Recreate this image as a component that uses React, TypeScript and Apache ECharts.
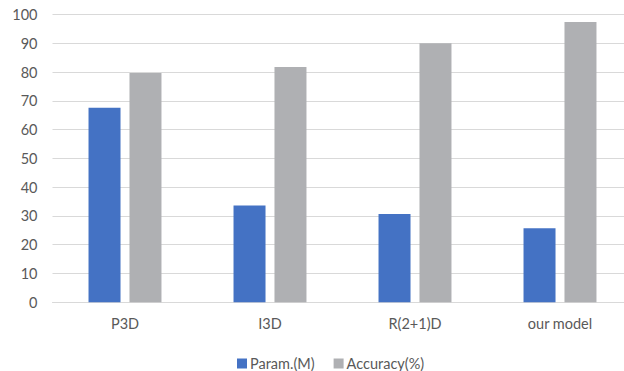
import React, { useEffect, useRef } from "react";
import * as echarts from "echarts";

const categories = ["P3D", "I3D", "R(2+1)D", "our model"];
const paramValues = [67.6, 33.6, 30.7, 25.7];
const accuracyValues = [79.7, 81.8, 90.0, 97.4];
const seriesNames = ["Param.(M)", "Accuracy(%)"];

const FONT = "Lato, 'Open Sans', sans-serif";
const TEXT = "#595959";

export default function App() {
  const ref = useRef<HTMLDivElement>(null);

  useEffect(() => {
    if (!ref.current) return;
    const chart = echarts.init(ref.current, undefined, { renderer: "svg" });
    chart.setOption({
      animation: false,
      textStyle: { fontFamily: FONT },
      grid: {
        left: 52.5,
        top: 14.5,
        width: 580,
        height: 287.8,
        containLabel: false,
        outerBoundsMode: "none",
      },
      legend: {
        left: 232,
        top: 351,
        itemWidth: 10,
        itemHeight: 10,
        itemGap: 19,
        icon: "rect",
        textStyle: { color: TEXT, fontSize: 14.5, fontFamily: FONT, padding: [0, 0, 0, -2] },
        data: seriesNames,
      },
      xAxis: {
        type: "category",
        data: categories,
        axisLine: { lineStyle: { color: "#D9D9D9", width: 1 } },
        axisTick: { show: false },
        axisLabel: { color: TEXT, fontSize: 14.5, margin: 14, fontFamily: FONT },
      },
      yAxis: {
        type: "value",
        min: 0,
        max: 100,
        interval: 10,
        axisLine: { show: false },
        axisTick: { show: false },
        axisLabel: { color: TEXT, fontSize: 14.5, margin: 15, fontFamily: FONT },
        splitLine: { lineStyle: { color: "#D9D9D9", width: 1 } },
      },
      series: [
        {
          name: seriesNames[0],
          type: "bar",
          data: paramValues,
          barWidth: 32,
          barGap: "28%",
          itemStyle: { color: "#4472C4" },
        },
        {
          name: seriesNames[1],
          type: "bar",
          data: accuracyValues,
          barWidth: 32,
          itemStyle: { color: "#AFB0B3" },
        },
      ],
    });
    return () => chart.dispose();
  }, []);

  return <div ref={ref} style={{ width: 624, height: 371, position: "absolute", left: 0, top: 0 }} />;
}
